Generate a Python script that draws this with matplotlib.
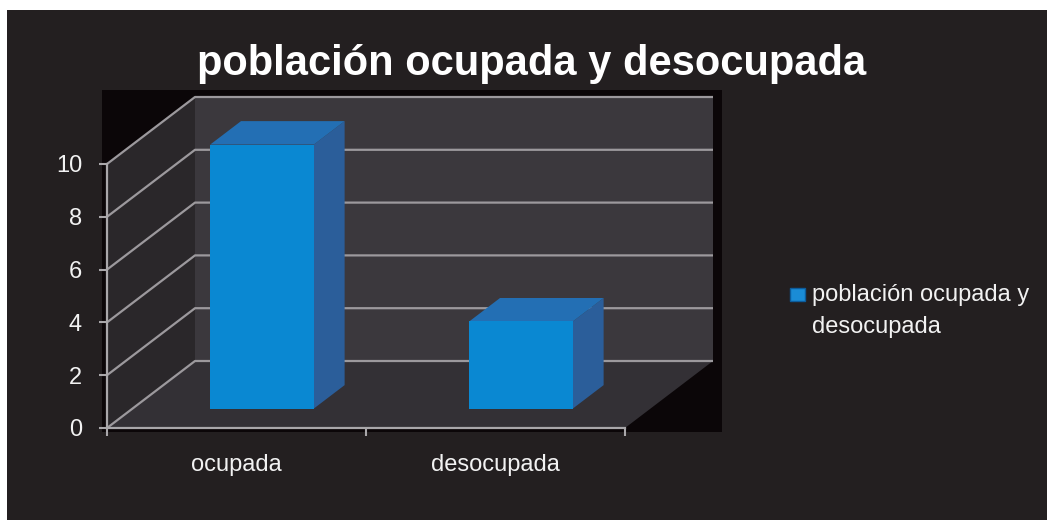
import matplotlib
matplotlib.use("Agg")
import matplotlib.pyplot as plt
from matplotlib.patches import Polygon, Rectangle

plt.rcParams['font.family'] = ['Liberation Sans', 'DejaVu Sans']

# ---- data ----
categories = ["ocupada", "desocupada"]
values = [10, 3.3]
series_name = "población ocupada y desocupada"
legend_lines = ["población ocupada y", "desocupada"]
title = "población ocupada y desocupada"
yticks = [0, 2, 4, 6, 8, 10]
ymax = 10

W, H, DPI = 1047, 520, 100
fig = plt.figure(figsize=(W / DPI, H / DPI), dpi=DPI, facecolor="white")


def fx(px):
    return px / W


def fy(py):
    return 1 - py / H


# dark background panel and black plot area
fig.patches.append(Rectangle((fx(7), 0), 1 - fx(7), fy(10), transform=fig.transFigure,
                             facecolor="#231f20", edgecolor="none", zorder=-3))
fig.patches.append(Rectangle((fx(102), fy(432)), fx(722) - fx(102), fy(90) - fy(432),
                             transform=fig.transFigure, facecolor="#0b0608",
                             edgecolor="none", zorder=-2))

ax = fig.add_axes([fx(107), fy(428), fx(625) - fx(107), fy(164) - fy(428)])
ax.set_xlim(0, len(categories))
ax.set_ylim(0, ymax)
ax.patch.set_visible(False)

# depth offset (display pixels) converted to data units
DX, DY = 88, 67
p0 = ax.transData.transform((0, 0))
p1 = ax.transData.transform((1, 1))
sx, sy = p1[0] - p0[0], p1[1] - p0[1]


def P(x, y, d):
    return (x + d * DX / sx, y + d * DY / sy)


n = len(categories)
wall_kw = dict(clip_on=False, linewidth=0)
# left wall, floor, back wall
ax.add_patch(Polygon([P(0, 0, 0), P(0, ymax, 0), P(0, ymax, 1), P(0, 0, 1)],
                     facecolor="#2a272a", zorder=1, **wall_kw))
ax.add_patch(Polygon([P(0, 0, 0), P(n, 0, 0), P(n, 0, 1), P(0, 0, 1)],
                     facecolor="#333035", zorder=1, **wall_kw))
ax.add_patch(Polygon([P(0, 0, 1), P(n, 0, 1), P(n, ymax, 1), P(0, ymax, 1)],
                     facecolor="#3b383d", zorder=1, **wall_kw))

# gridlines (left wall diagonal + back wall horizontal)
for v in yticks:
    pts = [P(0, v, 0), P(0, v, 1), P(n, v, 1)]
    ax.plot([p[0] for p in pts], [p[1] for p in pts], color="#9c999d", lw=1.6,
            clip_on=False, zorder=2, solid_capstyle="butt")

# 3D bars
bw = 0.4
d0, d1 = 0.29, 0.64
for i, v in enumerate(values):
    x0, x1 = i + 0.5 - bw / 2, i + 0.5 + bw / 2
    ax.add_patch(Polygon([P(x1, 0, d0), P(x1, v, d0), P(x1, v, d1), P(x1, 0, d1)],
                         facecolor="#2b5e9a", zorder=3, **wall_kw))
    ax.add_patch(Polygon([P(x0, v, d0), P(x1, v, d0), P(x1, v, d1), P(x0, v, d1)],
                         facecolor="#236fb4", zorder=3, **wall_kw))
    ax.add_patch(Polygon([P(x0, 0, d0), P(x1, 0, d0), P(x1, v, d0), P(x0, v, d0)],
                         facecolor="#0a88d2", zorder=4, **wall_kw))

# axes styling
for s in ["top", "right"]:
    ax.spines[s].set_visible(False)
for s in ["left", "bottom"]:
    ax.spines[s].set_color("#a9a7aa")
    ax.spines[s].set_linewidth(1.6)
    ax.spines[s].set_zorder(5)

ax.set_yticks(yticks)
ax.set_yticklabels([str(t) for t in yticks])
ax.tick_params(axis="y", colors="#a9a7aa", labelcolor="#f2f2f2", length=6,
               width=1.5, pad=12, labelsize=17)
ax.set_xticks(range(n + 1))
ax.set_xticklabels([""] * (n + 1))
ax.set_xticks([i + 0.5 for i in range(n)], minor=True)
ax.set_xticklabels(categories, minor=True)
ax.tick_params(axis="x", which="major", colors="#a9a7aa", length=6, width=1.5)
ax.tick_params(axis="x", which="minor", length=0, pad=19, labelsize=17,
               labelcolor="#f2f2f2")

# title
fig.text(fx(532), fy(75), title, ha="center", va="baseline", fontsize=30,
         fontweight="bold", color="white")

# legend
fig.patches.append(Rectangle((fx(790), fy(301)), fx(805) - fx(790), fy(288) - fy(301),
                             transform=fig.transFigure, facecolor="#1a8cd6",
                             edgecolor="#0c5c9c", linewidth=1, zorder=3))
for k, line in enumerate(legend_lines):
    fig.text(fx(812), fy(301 + 32 * k), line, ha="left", va="baseline",
             fontsize=17, color="#f2f2f2")

fig.savefig("out.png", dpi=DPI, facecolor=fig.get_facecolor())
